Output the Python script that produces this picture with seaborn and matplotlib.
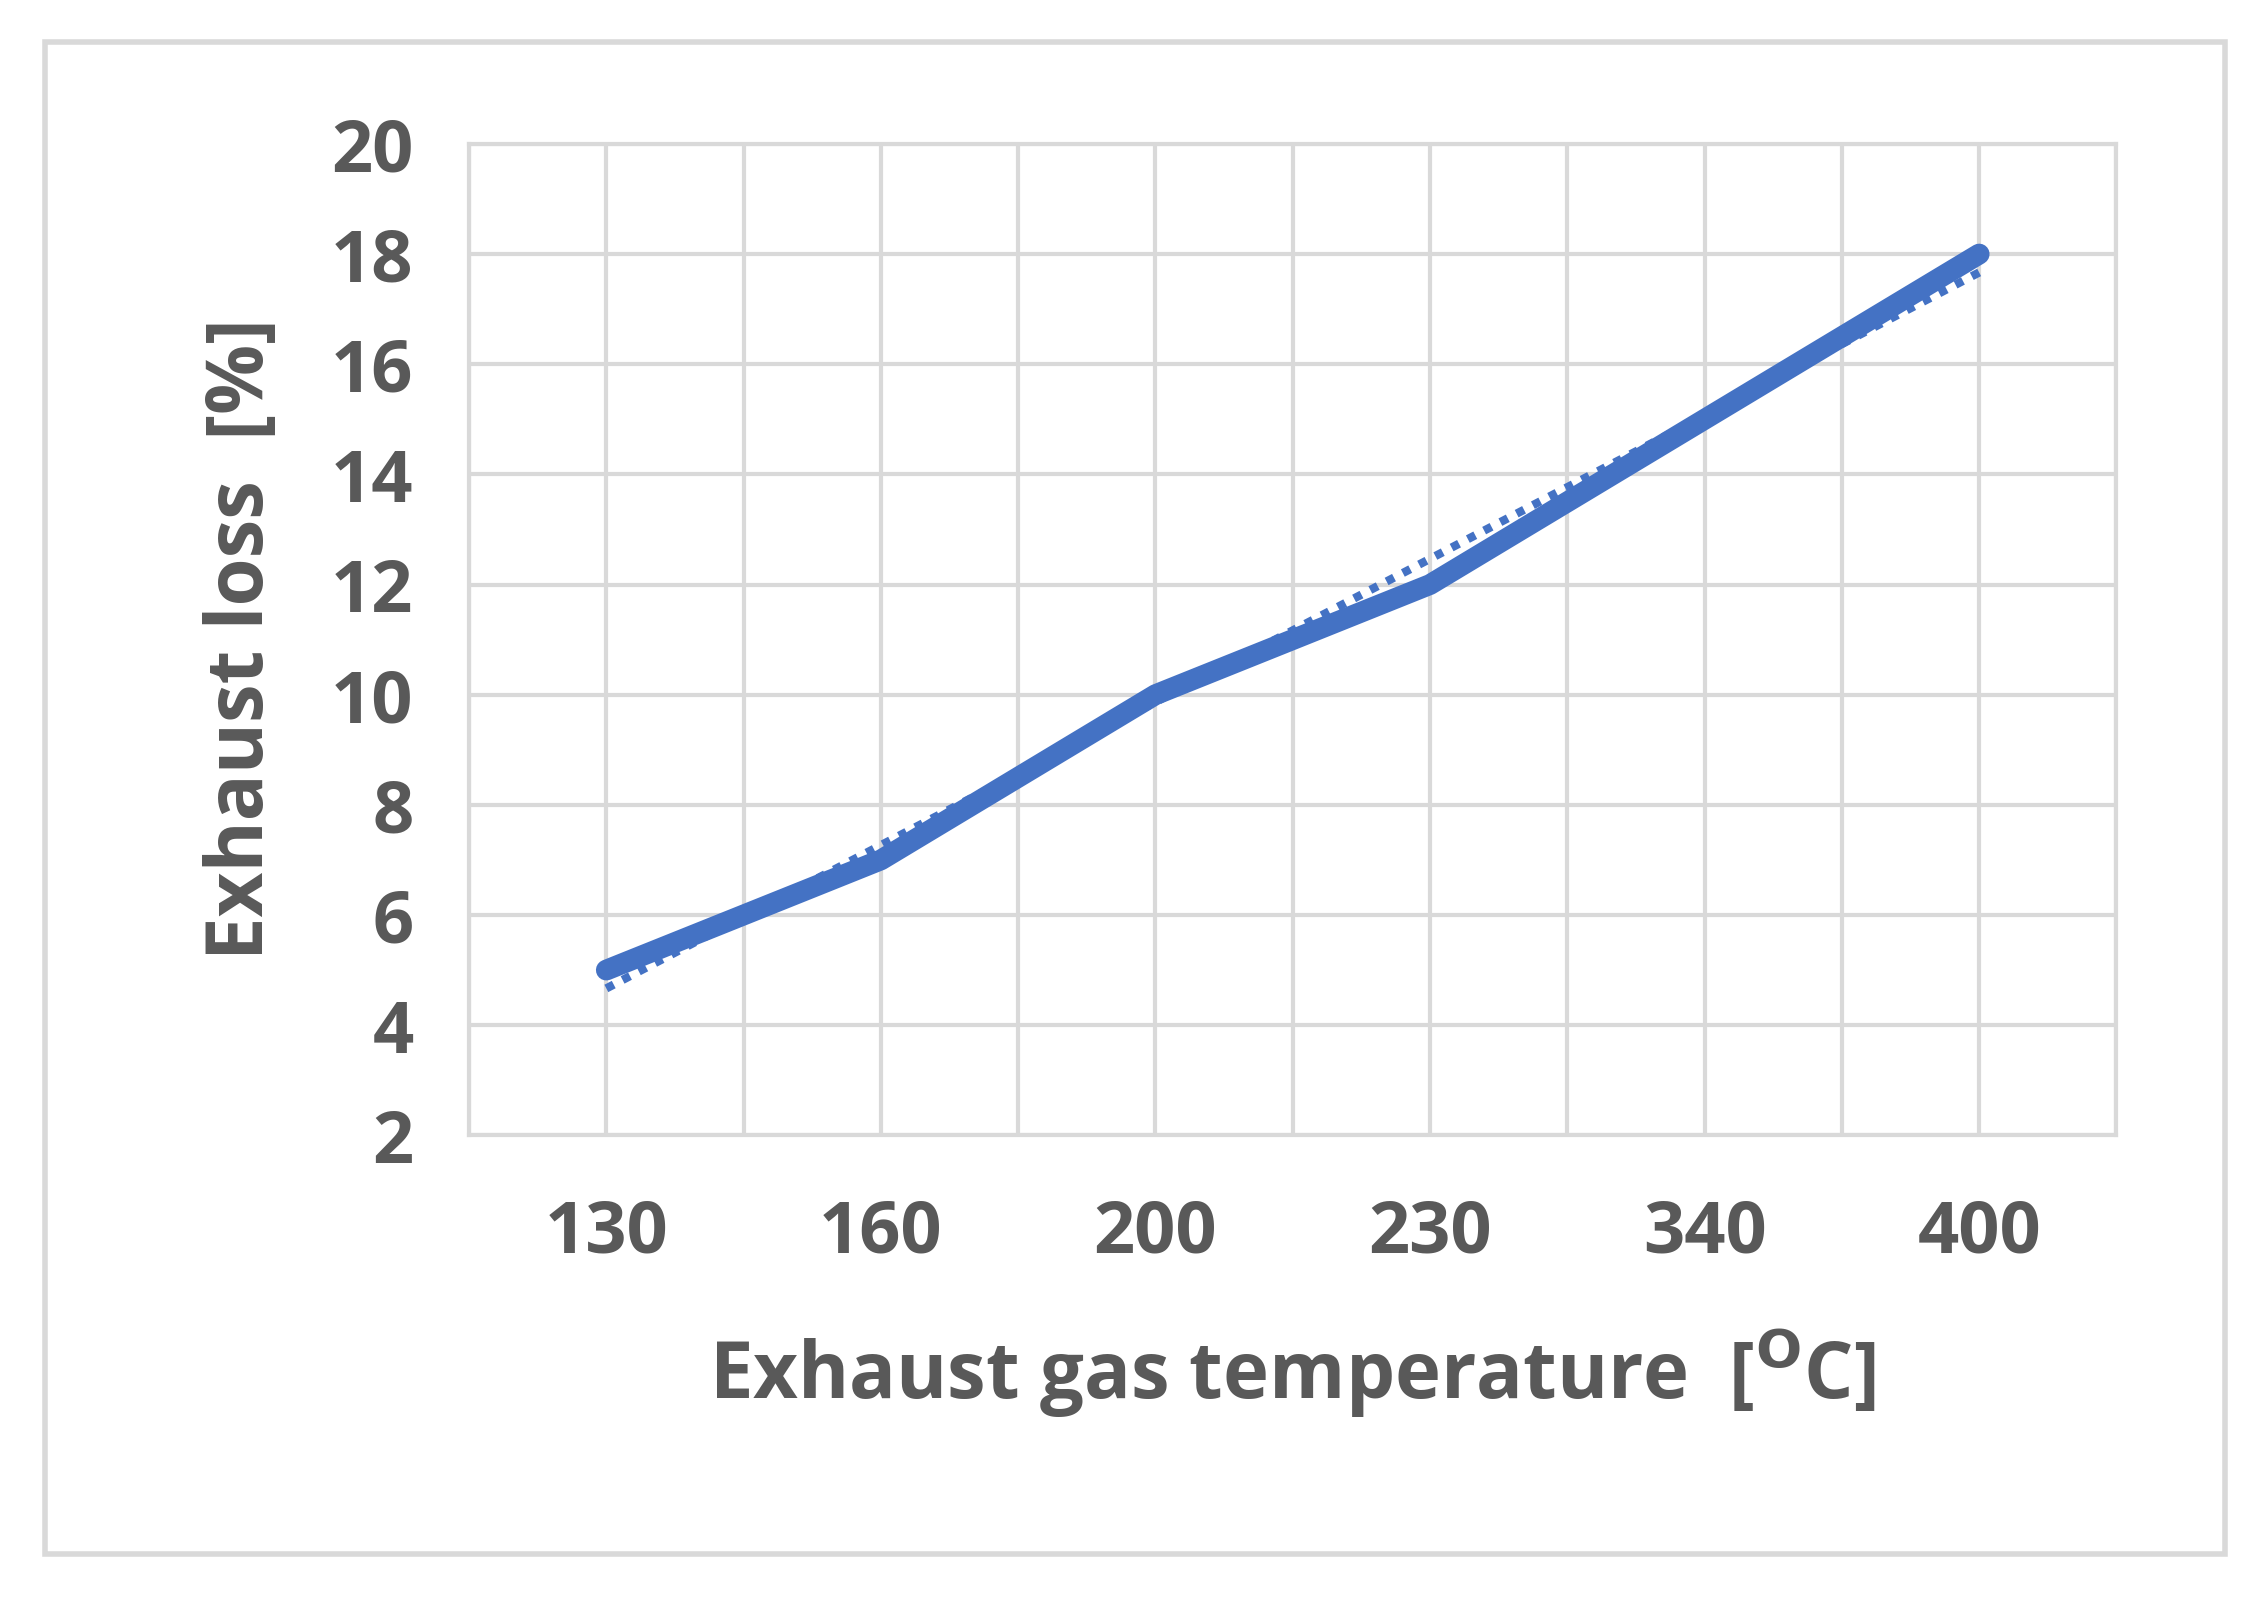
import numpy as np
import matplotlib
matplotlib.use("Agg")
import matplotlib.pyplot as plt
import seaborn as sns
import pandas as pd

categories = ["130", "160", "200", "230", "340", "400"]
exhaust_loss = [5, 7, 10, 12, 15, 18]

sns.set_theme(style="white")
plt.rcParams['font.family'] = ['Open Sans', 'DejaVu Sans']

fig = plt.figure(figsize=(22.66, 15.99), dpi=100)
fig.patches.append(plt.Rectangle((0.02, 0.028), 0.962, 0.946, transform=fig.transFigure,
                                 fill=False, edgecolor="#d9d9d9", linewidth=4))
ax = fig.add_axes([0.207, 0.29, 0.727, 0.62])

df = pd.DataFrame({"x": np.arange(len(categories)), "y": exhaust_loss})
color = "#4472C4"
sns.lineplot(data=df, x="x", y="y", ax=ax, color=color, linewidth=15, zorder=3)
coef = np.polyfit(df["x"], df["y"], 1)
xs = np.array([0, len(categories) - 1])
ax.plot(xs, np.polyval(coef, xs), linestyle=(0, (1, 1.2)), color=color, linewidth=6, zorder=2)

ax.set_ylim(2, 20)
ax.set_yticks(range(2, 21, 2))
ax.set_xticks(np.arange(len(categories)))
ax.set_xticklabels(categories)
ax.set_xticks(np.arange(-0.5, len(categories), 0.5), minor=True)
ax.set_xlim(-0.5, len(categories) - 0.5)
ax.grid(True, which="both", axis="x", color="#d9d9d9", linewidth=3)
ax.grid(True, which="major", axis="y", color="#d9d9d9", linewidth=3)
for s in ax.spines.values():
    s.set_color("#d9d9d9"); s.set_linewidth(3)
ax.tick_params(axis="y", which="both", length=0, labelsize=52, colors="#595959", pad=40)
ax.tick_params(axis="x", which="both", length=0, labelsize=52, colors="#595959", pad=45)
for t in ax.get_xticklabels() + ax.get_yticklabels():
    t.set_fontweight("bold")
ax.set_xlabel("Exhaust gas temperature  [$^{\\mathbf{O}}$C]", fontsize=56, color="#595959",
              fontweight="bold", labelpad=40)
ax.set_ylabel("Exhaust loss  [%]", fontsize=56, color="#595959", fontweight="bold", labelpad=35)
fig.savefig("out.png", dpi=100, facecolor="white")
